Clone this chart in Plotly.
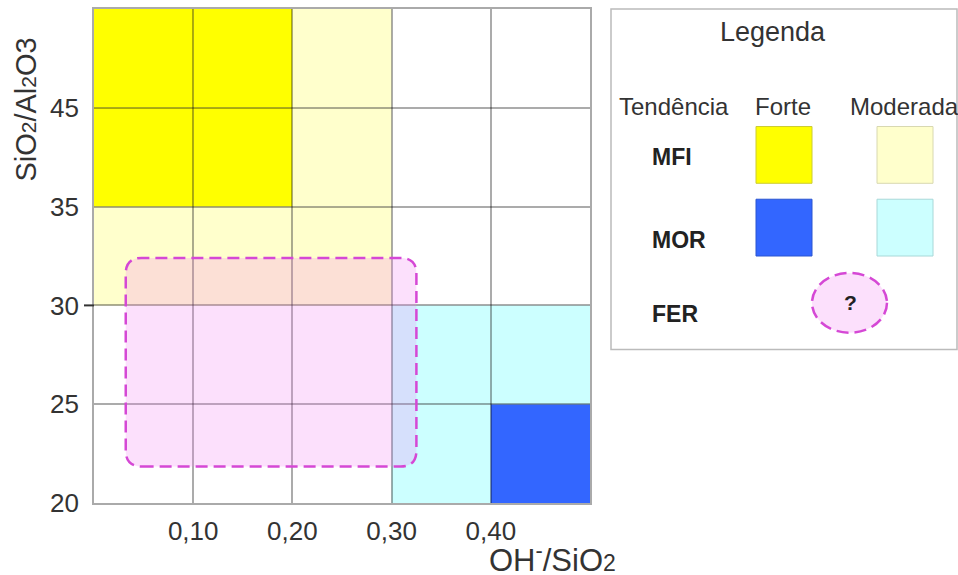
import plotly.graph_objects as go

# ---- data ----
x_edges = [0.0, 0.1, 0.2, 0.3, 0.4, 0.5]
x_tickvals = [0.1, 0.2, 0.3, 0.4]
x_ticktext = ["0,10", "0,20", "0,30", "0,40"]
y_ticktext = ["20", "25", "30", "35", "45"]          # labels at row boundaries 0..4
# cell class per row (bottom -> top), per column
# 0 = none, 1 = MFI moderada, 2 = MFI forte, 3 = MOR moderada, 4 = MOR forte
cells = [
    [0, 0, 0, 3, 4],   # 20-25
    [0, 0, 0, 3, 3],   # 25-30
    [1, 1, 1, 0, 0],   # 30-35
    [2, 2, 1, 0, 0],   # 35-45
    [2, 2, 1, 0, 0],   # 45-
]
class_colors = {1: "#FFFFCC", 2: "#FFFF00", 3: "#CCFFFF", 4: "#3366FF"}
fer_x = [0.032, 0.325]
fer_y = [0.37, 2.48]

FONT = "Liberation Sans, Arial, sans-serif"
W, H = 958, 575
L, R, T, B = 94, 590, 7, 503

def px(x):
    return (x - L) / (R - L)

def py(y):
    return (B - y) / (B - T)

fig = go.Figure()
fig.add_trace(go.Scatter(x=[0, 0.5], y=[0, 5], mode="markers",
                         marker=dict(opacity=0), hoverinfo="skip", showlegend=False))

shapes = []
for r, row in enumerate(cells):
    for c, cls in enumerate(row):
        if cls:
            shapes.append(dict(type="rect", xref="x", yref="y",
                               x0=x_edges[c], x1=x_edges[c + 1], y0=r, y1=r + 1,
                               fillcolor=class_colors[cls], line=dict(width=0),
                               layer="below"))

# FER rounded region
x0, x1 = fer_x
y0, y1 = fer_y
rx, ry = 0.016, 0.16
path = (f"M {x0+rx},{y0} L {x1-rx},{y0} Q {x1},{y0} {x1},{y0+ry} "
        f"L {x1},{y1-ry} Q {x1},{y1} {x1-rx},{y1} L {x0+rx},{y1} "
        f"Q {x0},{y1} {x0},{y1-ry} L {x0},{y0+ry} Q {x0},{y0} {x0+rx},{y0} Z")
shapes.append(dict(type="path", xref="x", yref="y", path=path,
                   fillcolor="rgba(245,130,245,0.25)",
                   line=dict(color="#D548D5", width=2.5, dash="12px,6px"),
                   layer="above"))

# tick mark at 30
shapes.append(dict(type="line", xref="paper", yref="y", x0=px(84), x1=0, y0=2, y1=2,
                   line=dict(color="#333333", width=2)))

# legend box
shapes.append(dict(type="rect", xref="paper", yref="paper",
                   x0=px(611), x1=px(957), y0=py(349), y1=py(7),
                   line=dict(color="#BBBBBB", width=1.5), fillcolor="white"))
sq = [
    (756, 812, 125, 182, "#FFFF00", "#CCCC33"),
    (877, 933, 125, 182, "#FFFFCC", "#D8D8B0"),
    (756, 812, 198, 255, "#3366FF", "#2A55D0"),
    (877, 933, 198, 255, "#CCFFFF", "#A8D8D8"),
]
for a, b, c, d, fc, lc in sq:
    shapes.append(dict(type="rect", xref="paper", yref="paper",
                       x0=px(a), x1=px(b), y0=py(d), y1=py(c),
                       fillcolor=fc, line=dict(color=lc, width=1)))
shapes.append(dict(type="circle", xref="paper", yref="paper",
                   x0=px(812), x1=px(887), y0=py(332), y1=py(272),
                   fillcolor="#FCE0FC", line=dict(color="#D548D5", width=2.5, dash="12px,6px")))

ann = []
def text(x, y, t, size=18, bold=False, xanchor="center", color="#333333", angle=0):
    ann.append(dict(xref="paper", yref="paper", x=px(x), y=py(y),
                    text=f"<b>{t}</b>" if bold else t, showarrow=False,
                    xanchor=xanchor, yanchor="middle", textangle=angle,
                    font=dict(family=FONT, size=size, color=color)))

text(773, 30, "Legenda", 27)
text(674, 105, "Tendência", 24)
text(783, 105, "Forte", 24)
text(904, 105, "Moderada", 24)
text(650, 156, "MFI", 23, True, xanchor="left", color="#222222")
text(650, 239, "MOR", 23, True, xanchor="left", color="#222222")
text(650, 313, "FER", 23, True, xanchor="left", color="#222222")
text(850, 302, "?", 21, True, color="#222222")
text(26, 108, "SiO<span style='font-size:21px'>2</span>/Al<span style='font-size:21px'>2</span>O3",
     29, angle=-90)
text(552, 558, "OH<sup>-</sup>/SiO<span style='font-size:23px'>2</span>", 31)

fig.update_layout(
    width=W, height=H,
    margin=dict(l=L, r=W - R, t=T, b=H - B),
    plot_bgcolor="white", paper_bgcolor="white",
    shapes=shapes, annotations=ann, showlegend=False,
    xaxis=dict(range=[0, 0.5], tickvals=x_tickvals, ticktext=x_ticktext,
               showgrid=True, gridcolor="rgba(0,0,0,0.33)", gridwidth=1.8,
               showline=True, mirror=True, linecolor="#AAAAAA", linewidth=1.8,
               zeroline=False, ticks="", ticklen=0, ticklabelstandoff=4,
               tickfont=dict(family=FONT, size=26, color="#333333")),
    yaxis=dict(range=[0, 5], tickvals=list(range(len(y_ticktext))), ticktext=y_ticktext,
               showgrid=True, gridcolor="rgba(0,0,0,0.33)", gridwidth=1.8,
               showline=True, mirror=True, linecolor="#AAAAAA", linewidth=1.8,
               zeroline=False, ticks="", ticklen=0, ticklabelstandoff=8,
               tickfont=dict(family=FONT, size=26, color="#333333")),
)
fig.write_html("out.html", config={"displayModeBar": False},
               post_script="document.body.style.margin='0';")
